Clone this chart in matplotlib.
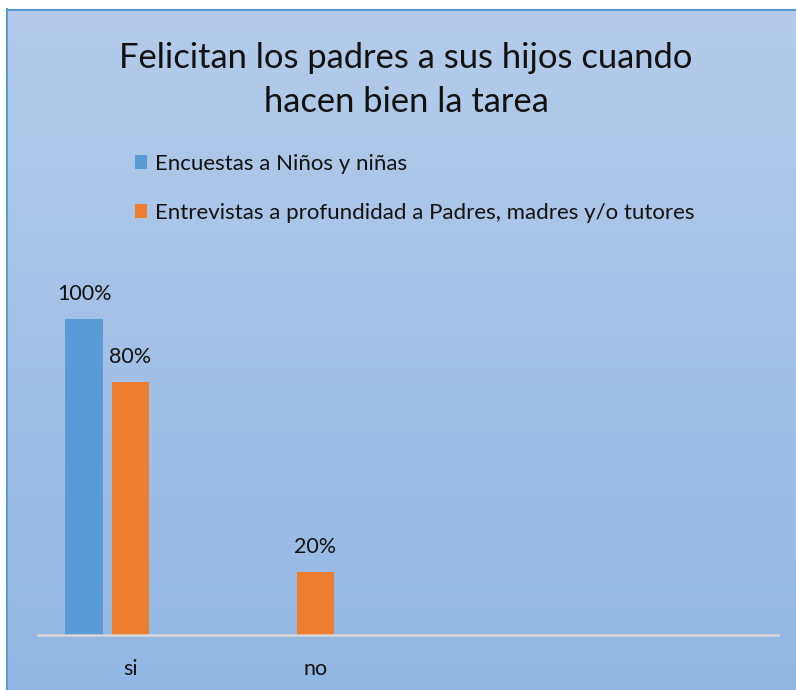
import numpy as np
import matplotlib
matplotlib.use("Agg")
import matplotlib.pyplot as plt

plt.rcParams['font.family'] = ['Lato', 'DejaVu Sans']

title = "Felicitan los padres a sus hijos cuando\nhacen bien la tarea"
categories = ["si", "no", "", ""]
series_names = ["Encuestas a Niños y niñas",
                "Entrevistas a profundidad a Padres, madres y/o tutores"]
ninos = [1.00, 0.00, np.nan, np.nan]
padres = [0.80, 0.20, np.nan, np.nan]
colors = ["#5B9BD5", "#ED7D31"]

W, H = 796, 690
fig = plt.figure(figsize=(W / 100, H / 100), dpi=100)
fig.patch.set_facecolor("white")

# gradient background (chart area)
bg = fig.add_axes([7 / W, 0, 1 - 7 / W, 1 - 9 / H], zorder=0)
grad = np.linspace(0, 1, 256).reshape(-1, 1)
top = np.array([180, 204, 234]) / 255
bot = np.array([147, 183, 227]) / 255
img = top[None, None, :] * (1 - grad[:, :, None]) + bot[None, None, :] * grad[:, :, None]
bg.imshow(img, aspect="auto", extent=[0, 1, 0, 1], origin="upper")
bg.set_xlim(0, 1); bg.set_ylim(0, 1)
bg.axis("off")
# border lines
fig.add_artist(plt.Line2D([7.5 / W, 7.5 / W], [0, 1 - 9 / H], color="#5B9BD5", lw=1.5))
fig.add_artist(plt.Line2D([7 / W, 1], [1 - 9.5 / H, 1 - 9.5 / H], color="#5B9BD5", lw=1.5))

ax = fig.add_axes([38 / W, (H - 635) / H, 740 / W, 316 / H], zorder=2)
ax.patch.set_alpha(0)
x = np.arange(len(categories))
w = 0.205
b1 = ax.bar(x - 0.25, ninos, width=w, color=colors[0], label=series_names[0])
b2 = ax.bar(x, padres, width=w, color=colors[1], label=series_names[1])
ax.set_xlim(-0.5, len(categories) - 0.5)
ax.set_ylim(0, 1)
for bars, vals in ((b1, ninos), (b2, padres)):
    for r, v in zip(bars, vals):
        if np.isfinite(v) and v > 0:
            ax.annotate(f"{v:.0%}", (r.get_x() + r.get_width() / 2, v),
                        xytext=(0, 25), textcoords="offset pixels",
                        ha="center", va="center", fontsize=15.5, color="#111111",
                        annotation_clip=False)
for s in ["top", "right", "left"]:
    ax.spines[s].set_visible(False)
ax.spines["bottom"].set_color("#D9D9D9")
ax.spines["bottom"].set_linewidth(1.8)
ax.set_yticks([])
ax.set_xticks(x)
ax.set_xticklabels(categories, fontsize=15.5, color="#111111")
ax.tick_params(axis="x", length=0, pad=17)

fig.text(406 / W, 1 - 80 / H, title, ha="center", va="center", fontsize=24.8,
         color="#111111", linespacing=1.5)

leg = fig.legend(handles=[b1, b2], labels=series_names, loc="upper left",
                 bbox_to_anchor=(126 / W, 1 - 145 / H), frameon=False,
                 fontsize=16, handlelength=0.55, handleheight=0.55,
                 handletextpad=0.35, labelspacing=1.3, borderaxespad=0,
                 labelcolor="#111111")

fig.savefig("out.png", dpi=100)
